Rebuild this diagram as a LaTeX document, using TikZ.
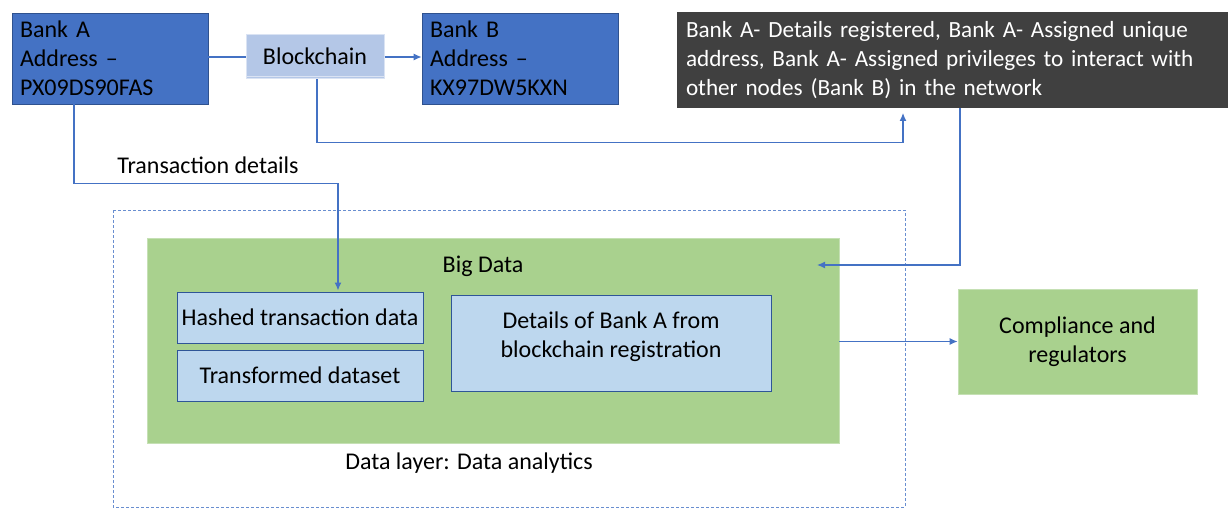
\documentclass[tikz,border=0pt]{standalone}
\usepackage{fontspec}
\setmainfont{Carlito}
\usetikzlibrary{arrows.meta}
\definecolor{bankblue}{HTML}{4472C4}
\definecolor{bankedge}{HTML}{2F528F}
\definecolor{chainfill}{HTML}{B4C7E7}
\definecolor{chainedge}{HTML}{DAE3F3}
\definecolor{darkgray}{HTML}{404040}
\definecolor{datagreen}{HTML}{A9D18E}
\definecolor{greenedge}{HTML}{C5E0B4}
\definecolor{paleblue}{HTML}{BDD7EE}
\definecolor{paleedge}{HTML}{2F5597}
\definecolor{linkblue}{HTML}{4472C4}

\tikzset{
  txt/.style={font=\fontsize{24}{29}\selectfont, inner sep=0pt},
  bankbox/.style={txt, draw=bankedge, line width=0.8pt, fill=bankblue, align=left,
    inner xsep=8pt, text width=180pt, minimum height=91pt},
  chainbox/.style={txt, draw=chainedge, line width=1pt, fill=chainfill,
    minimum width=138pt, minimum height=44pt},
  notebox/.style={txt, font=\fontsize{23.2}{29}\selectfont, fill=darkgray, text=white, align=left,
    inner xsep=9pt, text width=533pt, minimum height=96pt},
  greenbox/.style={txt, draw=greenedge, line width=0.8pt, fill=datagreen, align=center},
  innerbox/.style={txt, draw=paleedge, line width=1pt, fill=paleblue, align=center},
  link/.style={draw=linkblue, line width=1.2pt, -{Latex[length=8pt,width=7pt]}},
  plainlink/.style={draw=linkblue, line width=1.2pt}
}

\begin{document}
\begin{tikzpicture}[x=1pt,y=-1pt]
  \useasboundingbox (0,0) rectangle (1228,508);

  % top row
  \node[bankbox] (bankA) at (110,58.5) {Bank A\\Address --\\PX09DS90FAS};
  \node[chainbox] (chain) at (315,57) {};
  \draw[chainedge, line width=1pt] ([yshift=3pt]chain.south west) -- ([yshift=3pt]chain.south east);
  \node[txt] at (315,56) {Blockchain};
  \node[bankbox] (bankB) at (520,58.5) {Bank B\\Address --\\KX97DW5KXN};
  \node[notebox] (reg) at (952.5,60) {Bank A- Details registered, Bank A- Assigned unique\\address, Bank A- Assigned privileges to interact with\\other nodes (Bank B) in the network};

  % data layer
  \draw[linkblue!80, line width=1pt, dash pattern=on 3pt off 2pt] (113,210) rectangle (905,507);
  \node[greenbox, minimum width=692pt, minimum height=205pt] (big) at (493,340.5) {};
  \node[txt] (bigtxt) at (483,266) {Big Data};
  \node[innerbox, minimum width=246pt, minimum height=51pt] (hashed) at (300,317.5) {Hashed transaction data};
  \node[innerbox, minimum width=246pt, minimum height=51pt] (trans) at (300,375.5) {Transformed dataset};
  \node[innerbox, minimum width=320pt, minimum height=96pt] (details) at (611,343) {};
  \node[txt, align=center] at (611,337) {Details of Bank A from\\blockchain registration};
  \node[txt] (layer) at (469,463) {Data layer: Data analytics};
  \node[greenbox, minimum width=239pt, minimum height=105pt] (comp) at (1077.5,341.5) {Compliance and\\regulators};

  \node[txt] (txdet) at (208,165) {Transaction details};

  % connectors
  \coordinate (regin) at (903,113);
  \coordinate (bigin) at (817,265);
  \draw[plainlink] (bankA.east |- chain) -- (chain.west);
  \draw[link] (chain.east) -- (bankB.west |- chain);
  \draw[link] ([xshift=2pt]chain.south) -- ++(0,63) -| (regin);
  \draw[link] ([xshift=7.5pt]reg.south) |- (bigin);
  \draw[link] ([xshift=-36pt]bankA.south) -- ++(0,79) -| ([xshift=38pt,yshift=1pt]hashed.north);
  \draw[link] (big.east |- comp) -- (comp.west);
\end{tikzpicture}
\end{document}
